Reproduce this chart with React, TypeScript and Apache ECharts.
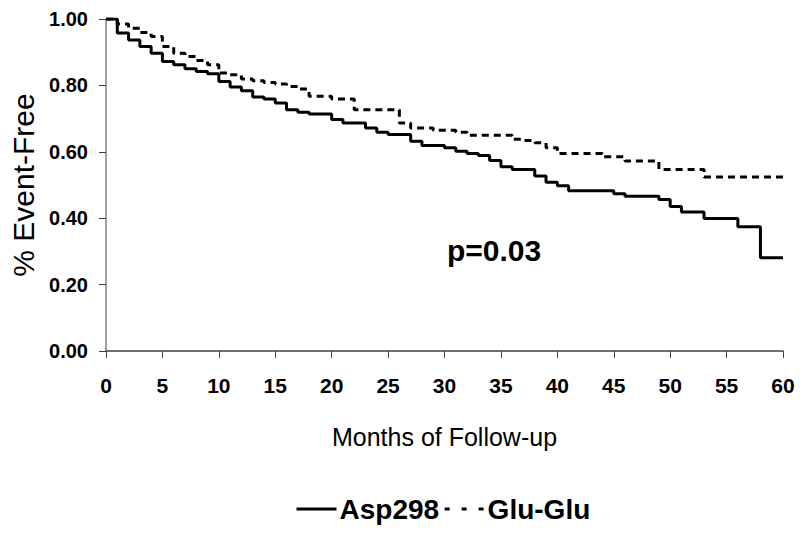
import React, { useEffect, useRef } from "react";
import * as echarts from "echarts";

const asp298: [number, number][] = [
  [0, 1.0], [1, 0.958], [2, 0.937], [3, 0.917], [4, 0.897], [5, 0.872], [6, 0.862],
  [7, 0.85], [8, 0.842], [9, 0.835], [10, 0.812], [11, 0.795], [12, 0.784], [13, 0.765],
  [14, 0.759], [15, 0.747], [16, 0.727], [17, 0.719], [18, 0.714], [20, 0.697], [21, 0.687],
  [23, 0.672], [24, 0.659], [25, 0.652], [27, 0.632], [28, 0.619], [30, 0.612], [31, 0.602],
  [32, 0.595], [33, 0.589], [34, 0.574], [35, 0.555], [36, 0.547], [38, 0.527], [39, 0.508],
  [40, 0.498], [41, 0.483], [45, 0.474], [46, 0.466], [49, 0.456], [50, 0.435], [51, 0.419],
  [53, 0.399], [56, 0.374], [58, 0.281], [60, 0.281],
];

const gluGlu: [number, number][] = [
  [0, 1.0], [1, 0.985], [2, 0.972], [3, 0.959], [4, 0.947], [5, 0.917], [6, 0.897],
  [7, 0.887], [8, 0.875], [9, 0.862], [10, 0.837], [11, 0.832], [12, 0.819], [13, 0.814],
  [14, 0.809], [15, 0.804], [16, 0.797], [17, 0.789], [18, 0.767], [20, 0.759], [22, 0.727],
  [26, 0.687], [27, 0.672], [29, 0.665], [31, 0.659], [32, 0.65], [36, 0.638], [37, 0.634],
  [38, 0.627], [39, 0.612], [40, 0.595], [44, 0.585], [46, 0.572], [49, 0.547], [53, 0.524],
  [60, 0.524],
];

const seriesNames = ["Asp298", "Glu-Glu"];
const pValueText = "p=0.03";
const xAxisTitle = "Months of Follow-up";
const yAxisTitle = "% Event-Free";

const FONT = "'Liberation Sans', Arial, Helvetica, sans-serif";

export default function App() {
  const ref = useRef<HTMLDivElement>(null);
  useEffect(() => {
    if (!ref.current) return;
    const chart = echarts.init(ref.current, null, { renderer: "svg" });
    chart.setOption({
      animation: false,
      backgroundColor: "#ffffff",
      grid: { left: 103, right: 17, top: 19, bottom: 182 },
      xAxis: {
        type: "value",
        min: 0,
        max: 60,
        interval: 5,
        name: xAxisTitle,
        nameLocation: "middle",
        nameGap: 73,
        nameTextStyle: { fontFamily: FONT, fontSize: 25, color: "#000" },
        axisLine: { show: true, onZero: false, lineStyle: { color: "#404040", width: 1.5 } },
        axisTick: { show: true, inside: false, length: 7, lineStyle: { color: "#404040", width: 1 } },
        axisLabel: { margin: 24, fontFamily: FONT, fontWeight: "bold", fontSize: 21, color: "#000" },
        splitLine: { show: false },
      },
      yAxis: {
        type: "value",
        min: 0,
        max: 1,
        interval: 0.2,
        name: yAxisTitle,
        nameLocation: "middle",
        nameGap: 68,
        nameTextStyle: { fontFamily: FONT, fontSize: 30, color: "#000" },
        axisLine: { show: true, lineStyle: { color: "#808080", width: 1.5 } },
        axisTick: { show: true, inside: false, length: 7, lineStyle: { color: "#404040", width: 1 } },
        axisLabel: {
          margin: 18,
          fontFamily: FONT,
          fontWeight: "bold",
          fontSize: 20,
          color: "#000",
          formatter: (v: number) => v.toFixed(2),
        },
        splitLine: { show: false },
      },
      legend: {
        show: true,
        left: 290,
        top: 490,
        itemWidth: 40,
        itemHeight: 14,
        itemGap: 4,
        itemStyle: { opacity: 0 },
        textStyle: { fontFamily: FONT, fontWeight: "bold", fontSize: 28, color: "#000", padding: [0, 0, 0, -2] },
        data: [
          { name: seriesNames[0], lineStyle: { width: 3, type: "solid", color: "#000" } },
          { name: seriesNames[1], lineStyle: { width: 3, type: [5, 12], color: "#000" } },
        ],
      },
      series: [
        {
          name: seriesNames[0],
          type: "line",
          step: "end",
          symbol: "none",
          data: asp298,
          lineStyle: { color: "#000", width: 3, type: "solid" },
          itemStyle: { color: "#000" },
        },
        {
          name: seriesNames[1],
          type: "line",
          step: "end",
          symbol: "none",
          data: gluGlu,
          lineStyle: { color: "#000", width: 3, type: [7, 5] },
          itemStyle: { color: "#000" },
        },
      ],
      graphic: [
        {
          type: "text",
          left: 447,
          top: 235,
          style: {
            text: pValueText,
            fontFamily: FONT,
            fontWeight: "bold",
            fontSize: 30,
            fill: "#000",
          },
        },
      ],
    });
    return () => chart.dispose();
  }, []);
  return <div ref={ref} style={{ width: 800, height: 533, position: "absolute", left: 0, top: 0 }} />;
}
